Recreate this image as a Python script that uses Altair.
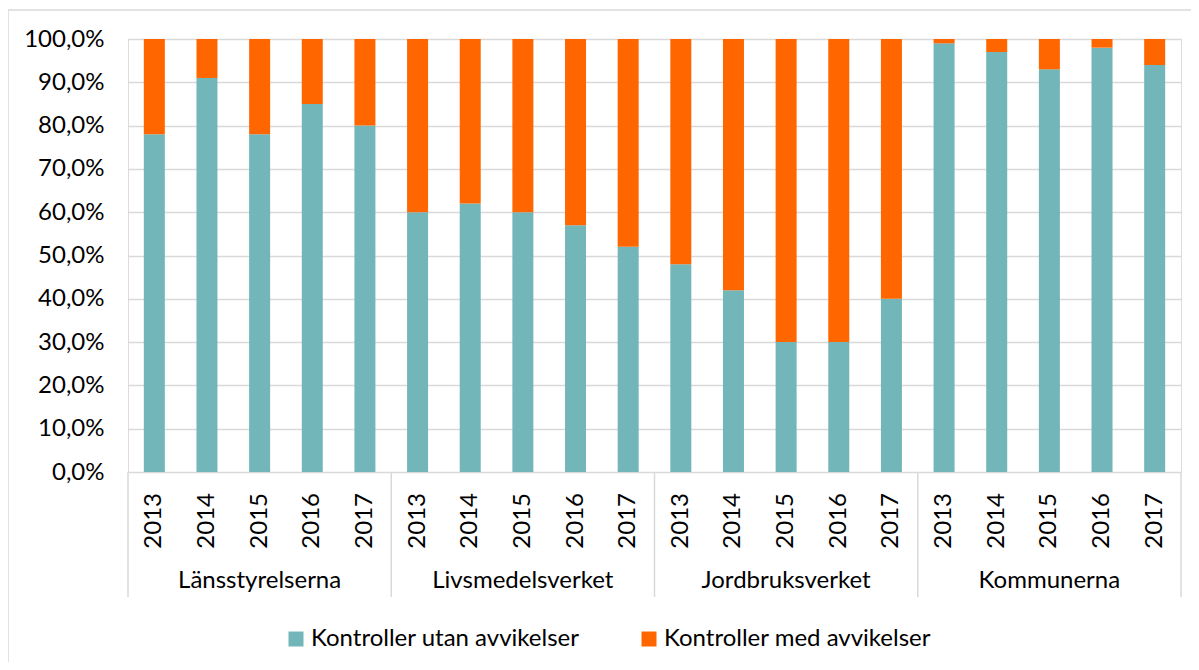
import altair as alt
import pandas as pd

years = ["2013", "2014", "2015", "2016", "2017"]
groups = ["Länsstyrelserna", "Livsmedelsverket", "Jordbruksverket", "Kommunerna"]
series = ["Kontroller utan avvikelser", "Kontroller med avvikelser"]
colors = ["#72B6BA", "#FF6600"]
# share of controls without deviations (%) per group and year
utan = [
    78, 91, 78, 85, 80,
    60, 62, 60, 57, 52,
    48, 42, 30, 30, 40,
    99, 97, 93, 98, 94,
]
y_ticks = [0, 10, 20, 30, 40, 50, 60, 70, 80, 90, 100]

FONT = "Lato"
FS = 24
GRID = "#d9d9d9"
W, H = 1053, 433

rows = []
labels = []
for gi, g in enumerate(groups):
    for yi, yr in enumerate(years):
        i = gi * len(years) + yi
        v = utan[i]
        pos = i + 0.5
        rows.append({"pos": pos, "group": g, "year": yr, "series": series[0], "start": 0, "end": v})
        rows.append({"pos": pos, "group": g, "year": yr, "series": series[1], "start": v, "end": 100})
        labels.append({"pos": pos, "year": yr})
bars_df = pd.DataFrame(rows)
years_df = pd.DataFrame(labels)
groups_df = pd.DataFrame({"gpos": [gi * len(years) + len(years) / 2 for gi in range(len(groups))],
                          "group": groups})
sep_df = pd.DataFrame({"b": [gi * len(years) for gi in range(len(groups) + 1)]})
frame_df = pd.DataFrame({"a": [0]})

xscale = alt.Scale(domain=[0, len(groups) * len(years)], nice=False, zero=False, padding=0)
yscale = alt.Scale(domain=[0, 100], nice=False, padding=0)

frame = alt.Chart(frame_df).mark_rect(fill=None, stroke=GRID, strokeWidth=1.5).encode(
    x=alt.value(-120), x2=alt.value(W + 40), y=alt.value(-29), y2=alt.value(H + 300)
)

bars = alt.Chart(bars_df).mark_bar(size=21).encode(
    x=alt.X("pos:Q", scale=xscale,
            axis=alt.Axis(labels=False, ticks=False, grid=False, domain=True,
                          domainColor=GRID, domainWidth=1.5, title=None)),
    y=alt.Y("start:Q", scale=yscale,
            axis=alt.Axis(values=y_ticks, domain=False, ticks=False, grid=True,
                          gridColor=GRID, gridWidth=1.5, title=None,
                          labelExpr="replace(format(datum.value, '.1f'), '.', ',') + '%'",
                          labelFont=FONT, labelFontSize=FS, labelColor="#000000",
                          labelPadding=24)),
    y2="end:Q",
    color=alt.Color("series:N",
                    scale=alt.Scale(domain=series, range=colors),
                    legend=alt.Legend(orient="none", direction="horizontal",
                                      legendX=156, legendY=588, title=None,
                                      symbolType="square", symbolSize=225,
                                      symbolStrokeWidth=0, labelFont=FONT,
                                      labelFontSize=FS, labelColor="#000000",
                                      labelOffset=3, columnPadding=57,
                                      labelLimit=600)),
    order=alt.Order("start:Q"),
)

seps = alt.Chart(sep_df).mark_rule(color=GRID, strokeWidth=1.5).encode(
    x=alt.X("b:Q", scale=xscale, axis=None),
    y=alt.value(H), y2=alt.value(H + 125),
)

year_text = alt.Chart(years_df).mark_text(
    angle=270, align="right", baseline="middle", font=FONT, fontSize=FS, color="#000000"
).encode(
    x=alt.X("pos:Q", scale=xscale, axis=None),
    y=alt.value(H + 21),
    text="year:N",
)

group_text = alt.Chart(groups_df).mark_text(
    align="center", baseline="alphabetic", font=FONT, fontSize=FS, color="#000000"
).encode(
    x=alt.X("gpos:Q", scale=xscale, axis=None),
    y=alt.value(H + 116),
    text="group:N",
)

chart = alt.layer(frame, bars, seps, year_text, group_text).properties(
    width=W, height=H,
    autosize=alt.AutoSizeParams(type="none"),
    padding={"left": 120, "top": 31, "right": 10, "bottom": 190},
).configure_view(stroke=None).configure(font=FONT, background="white")

chart.save("out.html", embed_options={"renderer": "svg", "actions": False})
